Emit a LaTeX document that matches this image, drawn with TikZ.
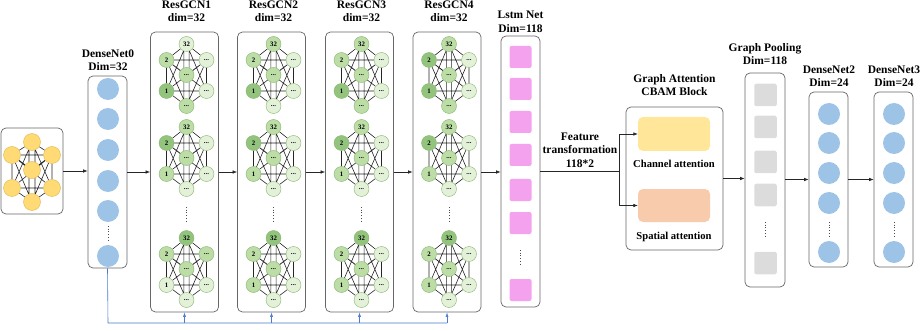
\documentclass[tikz,border=0pt]{standalone}
\usepackage{fontspec}
\setmainfont{Liberation Serif}
\usetikzlibrary{arrows.meta}
\pgfdeclarelayer{bg}
\pgfsetlayers{bg,main}
\definecolor{blueC}{HTML}{9DC3E6}
\definecolor{pinkC}{HTML}{F4A2EE}
\definecolor{grayC}{HTML}{DCDCDC}
\definecolor{yellowC}{HTML}{FFE699}
\definecolor{orangeC}{HTML}{F8CBAD}
\definecolor{inY}{HTML}{FFDA75}
\definecolor{inYb}{HTML}{E0B850}
\definecolor{gD}{HTML}{93C47D}
\definecolor{gM}{HTML}{BCDDA6}
\definecolor{gL}{HTML}{E3F1D9}
\definecolor{gB}{HTML}{88B56E}
\definecolor{lineB}{HTML}{4A7BD0}
\newcommand{\GEdges}[1]{%
\begin{pgfonlayer}{bg}
\draw[gedge] (#1T)--(#1UL) (#1T)--(#1UR) (#1UL)--(#1LL) (#1UR)--(#1LR)
 (#1LL)--(#1B) (#1LR)--(#1B) (#1UL)--(#1UR) (#1LL)--(#1LR)
 (#1UL)--(#1LR) (#1UR)--(#1LL) (#1T.-110)--(#1B.110) (#1T.-70)--(#1B.70)
 (#1UL)--(#1C) (#1UR)--(#1C) (#1UL)--(#1B) (#1UR)--(#1B) (#1T)--(#1LL) (#1T)--(#1LR);
\end{pgfonlayer}}
\newcommand{\GG}[8]{%
\node[gn,fill=g#2] (#1T) at (0,0) {32};
\node[gn,fill=g#3] (#1UL) at (-20,16) {2};
\node[gn,fill=g#4] (#1UR) at (20,16) {...};
\node[gn,fill=g#5] (#1C) at (0,31) {...};
\node[gn,fill=g#6] (#1LL) at (-20,47) {1};
\node[gn,fill=g#7] (#1LR) at (20,47) {...};
\node[gn,fill=g#8] (#1B) at (0,62) {...};
\GEdges{#1}}
\begin{document}
\begin{tikzpicture}[x=1pt,y=-1pt,line join=round,
 panel/.style={draw=black!60,line width=0.7pt,rounded corners=5pt,inner sep=0},
 ttl/.style={font=\fontsize{11.5}{13.5}\selectfont\bfseries,align=center,inner sep=0},
 sub/.style={font=\fontsize{10.6}{12}\selectfont\bfseries,align=center,inner sep=0},
 arr/.style={-{Latex[length=4.5pt,width=3.5pt]},line width=0.6pt,draw=black!85},
 plain/.style={line width=0.6pt,draw=black!85},
 barr/.style={-{Latex[length=4.5pt,width=3pt]},line width=0.6pt,draw=lineB},
 bline/.style={line width=0.6pt,draw=lineB},
 bc/.style={circle,fill=blueC,minimum size=22pt,inner sep=0},
 pk/.style={fill=pinkC,minimum size=22pt,rounded corners=2pt,inner sep=0},
 gy/.style={fill=grayC,minimum size=22.5pt,rounded corners=2pt,inner sep=0},
 gn/.style={circle,draw=gB,line width=0.4pt,minimum size=15pt,inner sep=0,font=\fontsize{6.8}{7}\selectfont\bfseries},
 yn/.style={circle,draw=inYb,line width=0.4pt,fill=inY,minimum size=17pt,inner sep=0},
 gedge/.style={line width=0.6pt,draw=black!85},
 vdots/.style={dotted,line width=0.7pt,draw=black!70}]
\useasboundingbox (0,0) rectangle (920,331);

% ---------- input graph ----------
\node[panel,minimum width=62pt,minimum height=86pt] (in) at (32,171) {};
\begin{scope}[shift={(32,142)}]
\node[yn] (yT) at (0,0) {};
\node[yn] (yUL) at (-20,13) {};
\node[yn] (yUR) at (20,13) {};
\node[yn] (yC) at (0,28) {};
\node[yn] (yLL) at (-20,46) {};
\node[yn] (yLR) at (20,46) {};
\node[yn] (yB) at (0,60) {};
\GEdges{y}
\end{scope}

% ---------- DenseNet0 ----------
\node[panel,minimum width=39pt,minimum height=192pt] (d0) at (107.5,172) {};
\node[ttl] (d0t) at (108,60) {DenseNet0\\Dim=32};
\foreach \yy [count=\i] in {89,119,150,181,211,256}{\node[bc] (d0c\i) at (108,\yy) {};}
\draw[vdots] (108,226) -- (108,240);

% ---------- ResGCN columns ----------
\foreach \k/\cx in {1/184.5,2/271.5,3/359.5,4/447}{
  \node[panel,minimum width=68pt,minimum height=280pt] (r\k) at (\cx,172) {};
  \node[ttl] (r\k t) at (\cx+2,11.5) {ResGCN\k\\dim=32};
  \draw[vdots] (\cx+2,207) -- (\cx+2,221);
}
\begin{scope}[shift={(186.5,44)}]\GG{ga}{L}{M}{L}{M}{D}{L}{M}\end{scope}
\begin{scope}[shift={(186.5,127)}]\GG{gb}{M}{D}{L}{M}{M}{L}{L}\end{scope}
\begin{scope}[shift={(186.5,238)}]\GG{gc}{D}{M}{M}{M}{L}{L}{L}\end{scope}
\begin{scope}[shift={(273.5,44)}]\GG{gd}{M}{M}{L}{M}{D}{L}{L}\end{scope}
\begin{scope}[shift={(273.5,127)}]\GG{ge}{M}{D}{L}{M}{M}{L}{L}\end{scope}
\begin{scope}[shift={(273.5,238)}]\GG{gf}{D}{M}{L}{M}{M}{L}{L}\end{scope}
\begin{scope}[shift={(361.5,44)}]\GG{gg}{M}{M}{L}{M}{D}{L}{M}\end{scope}
\begin{scope}[shift={(361.5,127)}]\GG{gh}{M}{D}{L}{M}{M}{L}{L}\end{scope}
\begin{scope}[shift={(361.5,238)}]\GG{gi}{D}{M}{L}{M}{M}{L}{L}\end{scope}
\begin{scope}[shift={(449,44)}]\GG{gj}{M}{D}{L}{M}{D}{L}{M}\end{scope}
\begin{scope}[shift={(449,127)}]\GG{gk}{M}{D}{L}{M}{M}{L}{L}\end{scope}
\begin{scope}[shift={(449,238)}]\GG{gl}{D}{M}{L}{M}{M}{L}{L}\end{scope}

% ---------- Lstm ----------
\node[panel,minimum width=39pt,minimum height=271pt] (ls) at (520.5,171.5) {};
\node[ttl] (lst) at (520.5,22) {Lstm Net\\Dim=118};
\foreach \yy [count=\i] in {57,89,122,155,190,223,290}{\node[pk] (lp\i) at (520.5,\yy) {};}
\draw[vdots] (520.5,250) -- (520.5,264);

% ---------- CBAM ----------
\node[panel,minimum width=97pt,minimum height=143pt] (cb) at (674.5,178.5) {};
\node[ttl] (cbt) at (674.5,85) {Graph Attention\\CBAM Block};
\node[fill=yellowC,rounded corners=5pt,minimum width=72pt,minimum height=34pt,inner sep=0] (ch) at (674,134) {};
\node[sub] (cht) at (674,164) {Channel attention};
\node[fill=orangeC,rounded corners=5pt,minimum width=72pt,minimum height=33pt,inner sep=0] (sp) at (674,205.5) {};
\node[sub] (spt) at (674,237) {Spatial attention};
\node[ttl] (ft) at (580,150) {Feature\\transformation\\118*2};

% ---------- Graph pooling ----------
\node[panel,minimum width=40pt,minimum height=214pt] (pl) at (765,180) {};
\node[ttl] (plt) at (765,54) {Graph Pooling\\Dim=118};
\foreach \yy [count=\i] in {95,127,162,195,263}{\node[gy] (pg\i) at (765.5,\yy) {};}
\draw[vdots] (765.5,222) -- (765.5,236);

% ---------- DenseNet2/3 ----------
\node[panel,minimum width=39pt,minimum height=175pt] (d2) at (828.5,179.5) {};
\node[ttl] (d2t) at (829,76) {DenseNet2\\Dim=24};
\foreach \yy [count=\i] in {114,143,173,203,252}{\node[bc] (d2c\i) at (829,\yy) {};}
\draw[vdots] (829,222) -- (829,236);
\node[panel,minimum width=39pt,minimum height=175pt] (d3) at (893.5,179.5) {};
\node[ttl] (d3t) at (894,76) {DenseNet3\\Dim=24};
\foreach \yy [count=\i] in {114,143,173,203,252}{\node[bc] (d3c\i) at (894,\yy) {};}
\draw[vdots] (894,222) -- (894,236);

% ---------- connectors ----------
\draw[arr] (in.east) -- (in.east -| d0.west);
\draw[arr] (d0.east) -- (d0.east -| r1.west);
\draw[arr] (r1.east) -- (r1.east -| r2.west);
\draw[arr] (r2.east) -- (r2.east -| r3.west);
\draw[arr] (r3.east) -- (r3.east -| r4.west);
\draw[arr] (r4.east) -- (r4.east -| ls.west);
\coordinate (br) at (619,171.5);
\draw[plain] (ls.east) -- (br);
\draw[arr] (br) |- (ch.west);
\draw[arr] (br) |- (sp.west);
\draw[arr] (cb.east) -- (cb.east -| pl.west);
\draw[arr] (pl.east |- d2.west) -- (d2.west);
\draw[arr] (d2.east) -- (d3.west);

% ---------- residual (blue) ----------
\coordinate (bL) at (108,323);
\coordinate (bR) at (447,323);
\draw[bline] (d0.south) -- (bL) -- (bR);
\draw[barr] (r1.south |- bL) -- (r1.south);
\draw[barr] (r2.south |- bL) -- (r2.south);
\draw[barr] (r3.south |- bL) -- (r3.south);
\draw[barr] (r4.south |- bL) -- (r4.south);
\end{tikzpicture}
\end{document}
